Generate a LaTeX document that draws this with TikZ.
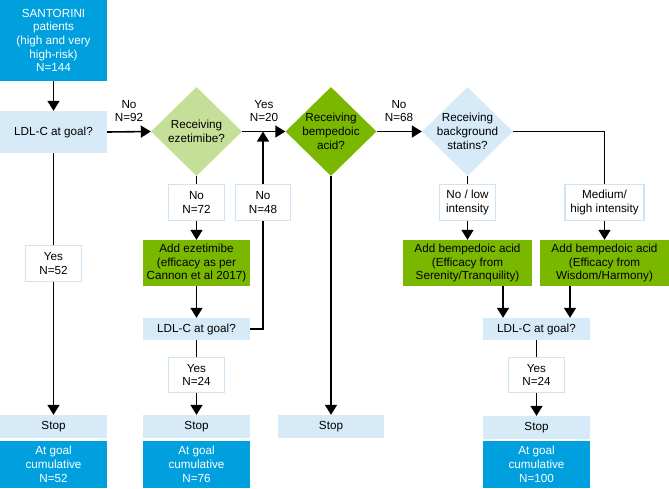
\documentclass[tikz,border=0pt]{standalone}
\usepackage{fontspec}
\setmainfont{Liberation Sans}
\usetikzlibrary{shapes.geometric,arrows.meta}
\definecolor{sblue}{RGB}{0,160,223}
\definecolor{lblue}{RGB}{214,234,248}
\definecolor{bgreen}{RGB}{122,184,0}
\definecolor{lgreen}{RGB}{197,223,153}
\definecolor{lborder}{RGB}{204,228,245}
\begin{document}
\begin{tikzpicture}[x=1pt,y=-1pt,
  every node/.style={font=\fontsize{11.7}{13.7}\selectfont, align=center, inner sep=0pt},
  bluebox/.style={rectangle, fill=sblue, text=white},
  lbox/.style={rectangle, fill=lblue},
  gbox/.style={rectangle, fill=bgreen},
  labbox/.style={rectangle, draw=lborder, line width=1.5pt, fill=white},
  dia/.style={diamond, minimum width=91pt, minimum height=89pt},
  conn/.style={line width=1.6pt, black},
  arr/.style={conn, -{Triangle[length=10pt,width=12pt]}}]
\useasboundingbox (0,0) rectangle (669,488);
% main nodes
\node[bluebox, minimum width=107pt, minimum height=81pt] (start) at (53.5,40.5) {SANTORINI\\patients\\(high and very\\high-risk)\\N=144};
\node[lbox, minimum width=107pt, minimum height=42pt] (q1) at (53.5,132) {LDL-C at goal?};
\node[dia, fill=lgreen] (d1) at (196.5,131.5) {};
\node at (d1.center) {Receiving\\ezetimibe?};
\node[dia, fill=bgreen] (d2) at (331,131.5) {};
\node at (d2.center) {Receiving\\bempedoic\\acid?};
\node[dia, fill=lblue] (d3) at (467.5,131.5) {};
\node at (d3.center) {Receiving\\background\\statins?};
% edge labels
\node (l92) at (129,111) {No\\N=92};
\node (l20) at (264,111) {Yes\\N=20};
\node (l68) at (399,111) {No\\N=68};
% left column
\node[labbox, minimum width=56pt, minimum height=36pt] (y52) at (53.5,263.5) {Yes\\N=52};
\node[lbox, minimum width=107pt, minimum height=23pt] (stop1) at (53.5,426.5) {Stop};
\node[bluebox, minimum width=107pt, minimum height=47pt] (goal1) at (53.5,464.5) {At goal\\cumulative\\N=52};
% ezetimibe column
\node[labbox, minimum width=56pt, minimum height=36pt] (n72) at (196.5,202.5) {No\\N=72};
\node[labbox, minimum width=55pt, minimum height=36pt] (n48) at (263,202.5) {No\\N=48};
\node[gbox, minimum width=107pt, minimum height=46pt] (addez) at (196.5,263) {Add ezetimibe\\(efficacy as per\\Cannon et al 2017)};
\node[lbox, minimum width=107pt, minimum height=22pt] (q2) at (196.5,329) {LDL-C at goal?};
\node[labbox, minimum width=56pt, minimum height=35pt] (y24a) at (196.5,375) {Yes\\N=24};
\node[lbox, minimum width=107pt, minimum height=23pt] (stop2) at (196.5,426.5) {Stop};
\node[bluebox, minimum width=107pt, minimum height=47pt] (goal2) at (196.5,464.5) {At goal\\cumulative\\N=76};
% bempedoic column
\node[lbox, minimum width=106pt, minimum height=23pt] (stop3) at (331,426.5) {Stop};
% statins columns
\node[labbox, minimum width=56pt, minimum height=36pt] (nolow) at (467.5,202.5) {No / low\\intensity};
\node[labbox, minimum width=79pt, minimum height=36pt] (medhigh) at (604.5,202.5) {Medium/\\high intensity};
\node[gbox, minimum width=129pt, minimum height=46pt] (addb1) at (467.5,263) {Add bempedoic acid\\(Efficacy from\\Serenity/Tranquility)};
\node[gbox, minimum width=129pt, minimum height=46pt] (addb2) at (604.5,263) {Add bempedoic acid\\(Efficacy from\\Wisdom/Harmony)};
\node[lbox, minimum width=107pt, minimum height=22pt] (q3) at (536.5,329) {LDL-C at goal?};
\node[labbox, minimum width=56pt, minimum height=35pt] (y24b) at (536.5,375) {Yes\\N=24};
\node[lbox, minimum width=107pt, minimum height=23pt] (stop4) at (536.5,427.5) {Stop};
\node[bluebox, minimum width=107pt, minimum height=47pt] (goal3) at (536.5,464.5) {At goal\\cumulative\\N=100};
% helper coordinates
\coordinate (xa) at (503,0);
\coordinate (xb) at (570,0);
% connectors
\draw[arr] (start.south) -- (q1.north);
\draw[arr] (q1.east) -- (d1.west);
\draw[arr] (d1.east) -- (d2.west);
\draw[arr] (d2.east) -- (d3.west);
\draw[conn] (q1.south) -- (y52.north);
\draw[arr] (y52.south) -- (stop1.north);
\draw[conn] (d1.south) -- (n72.north);
\draw[arr] (n72.south) -- (addez.north);
\draw[arr] (addez.south) -- (q2.north);
\draw[conn] (q2.east) -| (n48.south);
\draw[arr] (n48.north) -- (n48.north |- d1.east);
\draw[conn] (q2.south) -- (y24a.north);
\draw[arr] (y24a.south) -- (stop2.north);
\draw[arr] (d2.south) -- (stop3.north);
\draw[conn] (d3.south) -- (nolow.north);
\draw[arr] (nolow.south) -- (addb1.north);
\draw[conn] (d3.east) -| (medhigh.north);
\draw[arr] (medhigh.south) -- (addb2.north);
\draw[arr] (addb1.south -| xa) -- (q3.north -| xa);
\draw[arr] (addb2.south -| xb) -- (q3.north -| xb);
\draw[conn] (q3.south) -- (y24b.north);
\draw[arr] (y24b.south) -- (stop4.north);
\end{tikzpicture}
\end{document}
